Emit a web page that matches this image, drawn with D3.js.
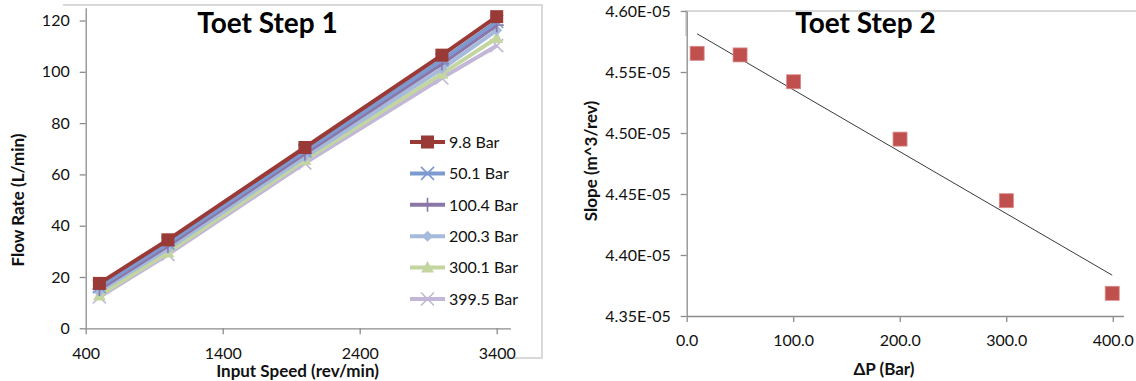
<!DOCTYPE html>
<html>
<head>
<meta charset="utf-8">
<script src="https://cdn.jsdelivr.net/npm/d3@7"></script>
<style>
  html, body { margin: 0; padding: 0; background: #fff; }
  svg { display: block; font-family: Lato, "Open Sans", sans-serif; }
</style>
</head>
<body>
<svg id="chart" width="1136" height="381"></svg>
<script>
// ---- Toet Step 1: flow rate vs input speed, one line per pressure ----
const speeds = [500, 1000, 2000, 3000, 3400];
const seriesNames = ["9.8 Bar", "50.1 Bar", "100.4 Bar", "200.3 Bar", "300.1 Bar", "399.5 Bar"];
const flow98  = [17.5, 34.5, 70.5, 106.5, 121.5];
const flow501 = [16.2, 33.2, 69.2, 104.6, 119.6];
const flow1004 = [15.3, 32.2, 68.2, 103.2, 118.2];
const flow2003 = [14.4, 31.0, 66.8, 101.2, 116.2];
const flow3001 = [12.8, 29.6, 65.6, 99.2, 113.2];
const flow3995 = [12.2, 28.8, 64.4, 97.6, 110.2];
const speedTicks = [400, 1400, 2400, 3400];
const flowTicks = [0, 20, 40, 60, 80, 100, 120];

// ---- Toet Step 2: fitted slope vs pressure difference ----
const deltaP = [9.8, 50.1, 100.4, 200.3, 300.1, 399.5];
const slopes = [4.5653e-5, 4.5640e-5, 4.5420e-5, 4.4950e-5, 4.4445e-5, 4.3686e-5];
const dpTicks = [0, 100, 200, 300, 400];
const slopeTicks = [4.35e-5, 4.40e-5, 4.45e-5, 4.50e-5, 4.55e-5, 4.60e-5];

const svg = d3.select("#chart");
const axisGrey = "#8c8c8c";
const frameGrey = "#d9d9d9";
const textCol = "#111";

// chart frames
svg.append("path").attr("d", "M63,5 H542 V358 H502")
  .attr("fill", "none").attr("stroke", frameGrey).attr("stroke-width", 2);
svg.append("path").attr("d", "M686,36 V11 H1136")
  .attr("fill", "none").attr("stroke", frameGrey).attr("stroke-width", 2);

// ================= left chart =================
const x1 = d3.scaleLinear().domain([400, 3500]).range([85.7, 510.4]);
const y1 = d3.scaleLinear().domain([0, 125]).range([328.3, 7.7]);

const styleAxis = (g) => {
  g.select(".domain").attr("stroke", axisGrey).attr("stroke-width", 1.3);
  g.selectAll(".tick line").attr("stroke", axisGrey).attr("stroke-width", 1.3);
  g.selectAll(".tick text").attr("fill", textCol).style("font-size", "16px")
    .style("font-family", "Lato, 'Open Sans', sans-serif");
};

const gx1 = svg.append("g").attr("transform", `translate(0,${y1(0)})`)
  .call(d3.axisBottom(x1).tickValues(speedTicks).tickSize(6).tickSizeOuter(0).tickPadding(13).tickFormat(d3.format("d")));
styleAxis(gx1);
const gy1 = svg.append("g").attr("transform", `translate(${x1(400)},0)`)
  .call(d3.axisLeft(y1).tickValues(flowTicks).tickSize(6).tickSizeOuter(0).tickPadding(10).tickFormat(d3.format("d")));
styleAxis(gy1);

const flows = [flow98, flow501, flow1004, flow2003, flow3001, flow3995];
const colors = ["#9a3a37", "#7d9ad0", "#8b76a8", "#a6badc", "#c3d69f", "#c2b7d6"];
const markerKinds = ["square", "x", "plus", "diamond", "triangle", "x"];

function drawMarker(g, kind, color, cx, cy) {
  if (kind === "square") {
    g.append("rect").attr("x", cx - 6.5).attr("y", cy - 6.5).attr("width", 13).attr("height", 13)
      .attr("fill", color);
  } else if (kind === "x") {
    g.append("path").attr("d", `M${cx-6.5},${cy-6.5}L${cx+6.5},${cy+6.5}M${cx-6.5},${cy+6.5}L${cx+6.5},${cy-6.5}`)
      .attr("stroke", color).attr("stroke-width", 1.6).attr("fill", "none");
  } else if (kind === "plus") {
    g.append("path").attr("d", `M${cx},${cy-7}V${cy+7}M${cx-7},${cy}H${cx+7}`)
      .attr("stroke", color).attr("stroke-width", 1.6).attr("fill", "none");
  } else if (kind === "diamond") {
    g.append("path").attr("d", `M${cx},${cy-5.5}L${cx+5.5},${cy}L${cx},${cy+5.5}L${cx-5.5},${cy}Z`)
      .attr("fill", color);
  } else if (kind === "triangle") {
    g.append("path").attr("d", `M${cx},${cy-6.5}L${cx+6.5},${cy+5}L${cx-6.5},${cy+5}Z`)
      .attr("fill", color);
  }
}

const line1 = d3.line().x((d, i) => x1(speeds[i])).y(d => y1(d));
// draw the last series first so 9.8 Bar sits on top
for (let s = flows.length - 1; s >= 0; s--) {
  const g = svg.append("g");
  g.append("path").datum(flows[s]).attr("d", line1)
    .attr("fill", "none").attr("stroke", colors[s]).attr("stroke-width", 4)
    .attr("stroke-linejoin", "round");
  flows[s].forEach((v, i) => drawMarker(g, markerKinds[s], colors[s], x1(speeds[i]), y1(v)));
}

// legend
const legend = svg.append("g");
seriesNames.forEach((name, i) => {
  const ly = 142 + i * 31.4;
  const g = legend.append("g");
  g.append("line").attr("x1", 410).attr("x2", 445).attr("y1", ly).attr("y2", ly)
    .attr("stroke", colors[i]).attr("stroke-width", 4);
  drawMarker(g, markerKinds[i], colors[i], 427.5, ly);
  g.append("text").attr("x", 449).attr("y", ly).attr("dy", "0.36em")
    .attr("fill", textCol).style("font-size", "16px").text(name);
});

svg.append("text").attr("x", 267.5).attr("y", 33).attr("text-anchor", "middle")
  .attr("fill", "#000").style("font-size", "28px").style("font-weight", "bold").text("Toet Step 1");
svg.append("text").attr("x", 297.5).attr("y", 377).attr("text-anchor", "middle")
  .attr("fill", textCol).style("font-size", "17px").style("font-weight", "bold").text("Input Speed (rev/min)");
svg.append("text").attr("transform", "translate(24,200) rotate(-90)").attr("text-anchor", "middle")
  .attr("fill", textCol).style("font-size", "17px").style("font-weight", "bold").text("Flow Rate (L/min)");

// ================= right chart =================
const x2 = d3.scaleLinear().domain([0, 410]).range([686.7, 1123.4]);
const y2 = d3.scaleLinear().domain([4.35e-5, 4.60e-5]).range([316, 11]);

const gx2 = svg.append("g").attr("transform", `translate(0,${y2(4.35e-5)})`)
  .call(d3.axisBottom(x2).tickValues(dpTicks).tickSize(6).tickSizeOuter(0).tickPadding(13).tickFormat(d3.format(".1f")));
styleAxis(gx2);
const sciFmt = (v) => {
  const m = v / 1e-5;
  return m.toFixed(2) + "E-05";
};
const gy2 = svg.append("g").attr("transform", `translate(${x2(0)},0)`)
  .call(d3.axisLeft(y2).tickValues(slopeTicks).tickSize(6).tickSizeOuter(0).tickPadding(10).tickFormat(sciFmt));
styleAxis(gy2);

// least-squares trendline through the slope points
const mx = d3.mean(deltaP), my = d3.mean(slopes);
const sxy = d3.sum(deltaP, (d, i) => (d - mx) * (slopes[i] - my));
const sxx = d3.sum(deltaP, d => (d - mx) * (d - mx));
const b = sxy / sxx, a = my - b * mx;
const xEnds = d3.extent(deltaP);
svg.append("line")
  .attr("x1", x2(xEnds[0])).attr("y1", y2(a + b * xEnds[0]))
  .attr("x2", x2(xEnds[1])).attr("y2", y2(a + b * xEnds[1]))
  .attr("stroke", "#3a3a3a").attr("stroke-width", 1);

svg.append("g").selectAll("rect").data(deltaP).join("rect")
  .attr("x", d => x2(d) - 7).attr("y", (d, i) => y2(slopes[i]) - 7)
  .attr("width", 14).attr("height", 14)
  .attr("fill", "#c0504d").attr("stroke", "#d88a88").attr("stroke-width", 0.8);

svg.append("text").attr("x", 865.5).attr("y", 33).attr("text-anchor", "middle")
  .attr("fill", "#000").style("font-size", "28px").style("font-weight", "bold").text("Toet Step 2");
svg.append("text").attr("x", 884).attr("y", 375).attr("text-anchor", "middle")
  .attr("fill", textCol).style("font-size", "17px").style("font-weight", "bold").text("ΔP (Bar)");
svg.append("text").attr("transform", "translate(597,161) rotate(-90)").attr("text-anchor", "middle")
  .attr("fill", textCol).style("font-size", "17px").style("font-weight", "bold").text("Slope (m^3/rev)");
</script>
</body>
</html>
